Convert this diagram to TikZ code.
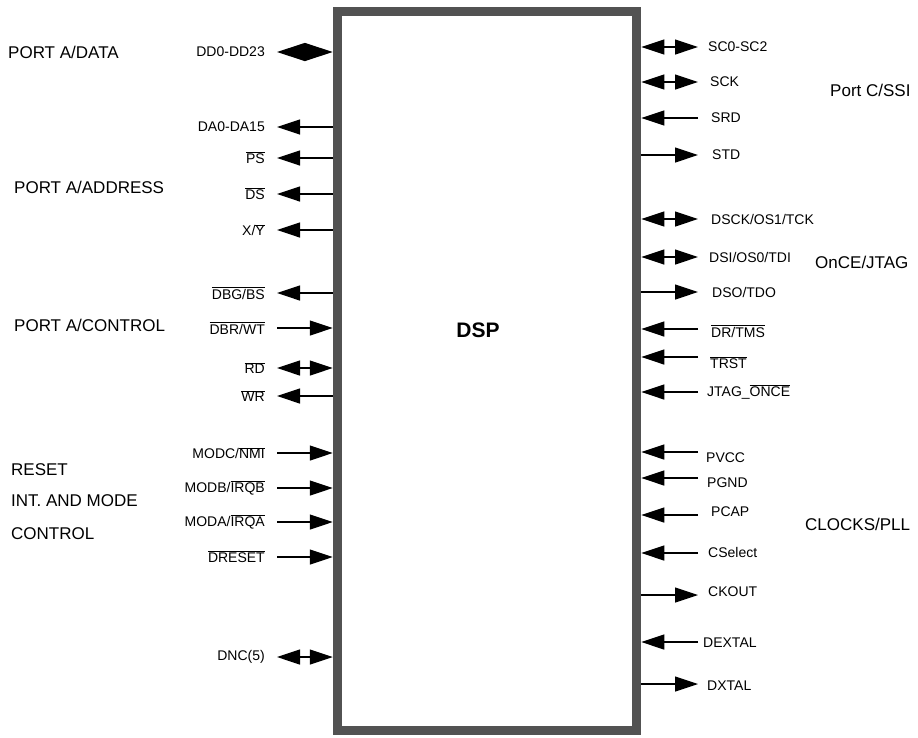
\documentclass[tikz,border=0pt]{standalone}
\usepackage{fontspec}
\setmainfont{Liberation Sans}
\usetikzlibrary{arrows.meta}
\usetikzlibrary{positioning}

\newcommand{\ovl}[1]{$\overline{\mbox{#1}}$}

\begin{document}
\begin{tikzpicture}[
    x=1pt, y=-1pt,
    chip/.style={draw=black!68, line width=9.5pt, minimum width=299pt, minimum height=719pt, inner sep=0pt},
    pinlbl/.style={inner sep=0pt, font=\fontsize{14}{16}\selectfont},
    grplbl/.style={inner sep=0pt, anchor=west, font=\fontsize{17}{19}\selectfont},
    >={Triangle[length=23pt, width=15pt]},
    pinin/.style={->, line width=1.2pt},
    pinout/.style={<-, line width=1.2pt},
    pinboth/.style={<->, line width=1.2pt},
    pinbus/.style={{Triangle[length=28pt, width=18pt]}-{Triangle[length=28pt, width=18pt]}, line width=1.2pt}
]
\useasboundingbox (0,0) rectangle (918,737);

% --- DSP block ---
\node[chip] (dsp) at (487,371) {};
\node[font=\fontsize{21}{23}\selectfont\bfseries] (dsplbl) at (478,330) {DSP};

% --- Left pins ---
\foreach \i/\y/\t/\d in {1/52/DD0-DD23/pinbus, 2/127/DA0-DA15/pinout, 3/158/\ovl{PS}/pinout,
    4/194/\ovl{DS}/pinout, 5/230/{X/\ovl{Y}}/pinout, 6/293/{\ovl{DBG/BS}}/pinout,
    7/328/{\ovl{DBR/WT}}/pinin, 8/368/\ovl{RD}/pinboth, 9/396/\ovl{WR}/pinout,
    10/453/{MODC/\ovl{NMI}}/pinin, 11/488/{MODB/\ovl{IRQB}}/pinin, 12/522/{MODA/\ovl{IRQA}}/pinin,
    13/557/\ovl{DRESET}/pinin, 14/657/DNC(5)/pinboth}
{
    \node[pinlbl, anchor=east] (lp\i) at (265,\y) {\t};
    \coordinate (la\i) at (277,\y);
    \draw[\d] (la\i) -- (dsp.west |- la\i);
}

% --- Right pins (label x and y given apart, as printed) ---
\foreach \i/\y/\tx/\ty/\t/\d in {1/47/708/47/SC0-SC2/pinboth, 2/82/710/82/SCK/pinboth,
    3/118/711/118/SRD/pinin, 4/155/712/155/STD/pinout,
    5/219/711/219/{DSCK/OS1/TCK}/pinboth, 6/257/709/257/{DSI/OS0/TDI}/pinboth,
    7/292/712/292/{DSO/TDO}/pinout, 8/329/711/331/{\ovl{DR/TMS}}/pinin,
    9/357/710/363/\ovl{TRST}/pinin, 10/392/707/392/JTAG\_\ovl{ONCE}/pinin,
    11/452/706/458/PVCC/pinin, 12/478/707/483/PGND/pinin, 13/515/711/512/PCAP/pinin,
    14/553/708/552/CSelect/pinin, 15/595/708/592/CKOUT/pinout,
    16/642/703/643/DEXTAL/pinin, 17/684/707/686/DXTAL/pinout}
{
    \node[pinlbl, anchor=west] (rp\i) at (\tx,\ty) {\t};
    \coordinate (ra\i) at (698,\y);
    \draw[\d] (ra\i) -- (dsp.east |- ra\i);
}

% --- Group labels ---
\node[grplbl] (gdata) at (8,52) {PORT A/DATA};
\node[grplbl] (gaddr) at (14,187) {PORT A/ADDRESS};
\node[grplbl] (gctrl) at (14,325) {PORT A/CONTROL};
\node[grplbl] (greset) at (11,470) {RESET};
\node[grplbl] (gint) at (11,501) {INT. AND MODE};
\node[grplbl] (gmode) at (11,534) {CONTROL};
\node[grplbl] (gssi) at (830,90) {Port C/SSI};
\node[grplbl] (gjtag) at (815,262) {OnCE/JTAG};
\node[grplbl] (gpll) at (805,524) {CLOCKS/PLL};

\end{tikzpicture}
\end{document}
